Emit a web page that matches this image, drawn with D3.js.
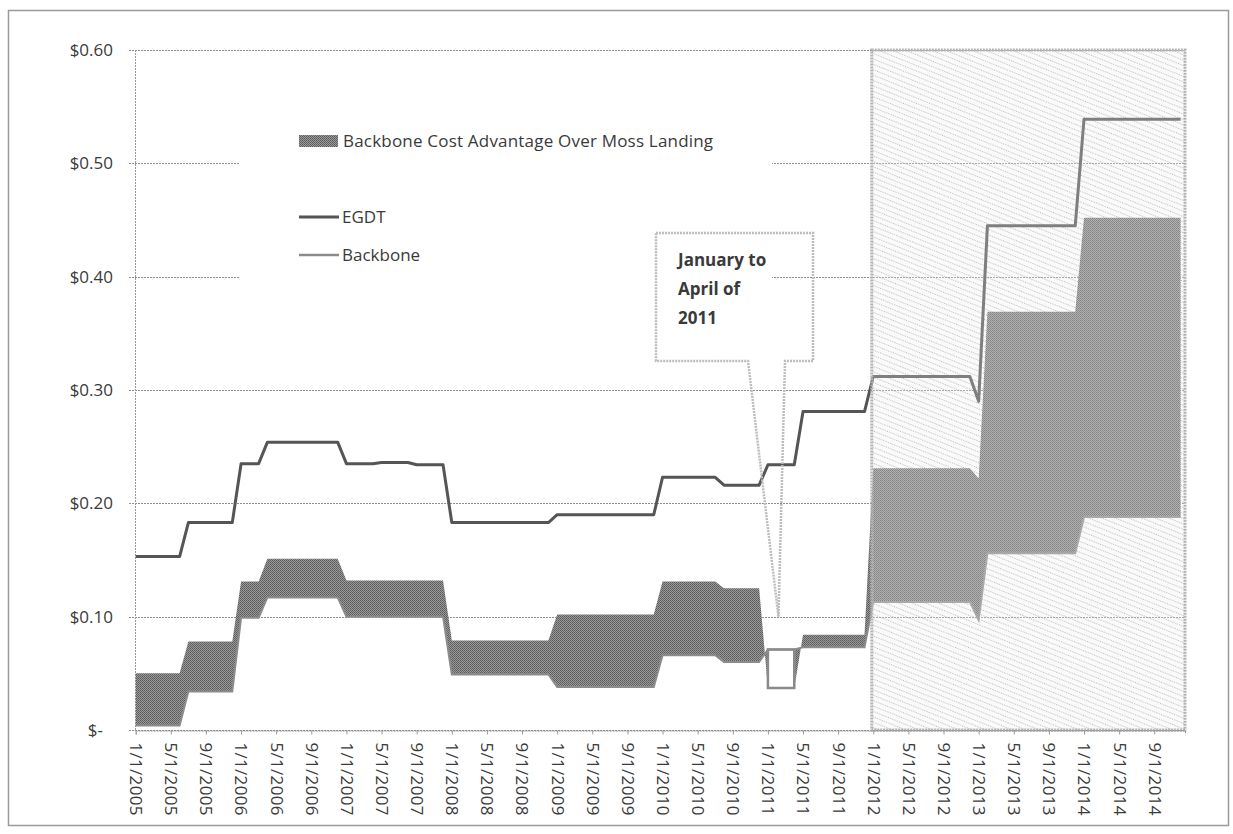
<!DOCTYPE html>
<html>
<head>
<meta charset="utf-8">
<script src="https://cdn.jsdelivr.net/npm/d3@7"></script>
<style>
  body { margin: 0; background: #fff; }
  svg text { font-family: "Open Sans", "DejaVu Sans", sans-serif; fill: #3a3a3a; }
</style>
</head>
<body>
<div id="chart"></div>
<script>
// values, one entry per change (month, $/unit)
var startYear = 2005;
var monthCount = 120; // 1/2005 .. 12/2014

var egdtChanges = [
	["2005-01", 0.153], ["2005-07", 0.183], ["2006-01", 0.235], ["2006-04", 0.254],
	["2007-01", 0.235], ["2007-05", 0.236], ["2007-09", 0.234], ["2008-01", 0.183],
	["2009-01", 0.190], ["2010-01", 0.223], ["2010-08", 0.216], ["2011-01", 0.234],
	["2011-05", 0.281], ["2012-01", 0.312], ["2013-01", 0.290], ["2013-02", 0.445],
	["2014-01", 0.539]
];
// lower edge of the band (Backbone line)
var backboneChanges = [
	["2005-01", 0.004], ["2005-07", 0.034], ["2006-01", 0.099], ["2006-04", 0.117],
	["2007-01", 0.100], ["2008-01", 0.049], ["2009-01", 0.038], ["2010-01", 0.066],
	["2010-08", 0.060], ["2011-01", 0.071], ["2011-05", 0.073], ["2012-01", 0.113],
	["2013-01", 0.097], ["2013-02", 0.156], ["2014-01", 0.188]
];
// upper edge of the band (Moss Landing)
var mossLandingChanges = [
	["2005-01", 0.050], ["2005-07", 0.078], ["2006-01", 0.131], ["2006-04", 0.151],
	["2007-01", 0.132], ["2008-01", 0.079], ["2009-01", 0.102], ["2010-01", 0.131],
	["2010-08", 0.125], ["2011-01", 0.037], ["2011-05", 0.084], ["2012-01", 0.231],
	["2013-01", 0.222], ["2013-02", 0.369], ["2014-01", 0.452]
];

var yTicks = [0, 0.1, 0.2, 0.3, 0.4, 0.5, 0.6];
var xTickStep = 4; // a label every 4 months
var forecastStart = "2012-01";
var calloutLines = ["January to", "April of", "2011"];
var calloutTarget = ["2011-02", 0.10];
var legendBand = "Backbone Cost Advantage Over Moss Landing";
var legendLines = ["EGDT", "Backbone"];

function monthIndex(s) {
	var p = s.split("-");
	return (+p[0] - startYear) * 12 + (+p[1] - 1);
}

// hold each value until the next change
function expandSteps(changes) {
	var out = [];
	var j = 0;
	for (var i = 0; i < monthCount; i++) {
		while (j + 1 < changes.length && monthIndex(changes[j + 1][0]) <= i) j++;
		out.push(changes[j][1]);
	}
	return out;
}

var egdt = expandSteps(egdtChanges);
var backbone = expandSteps(backboneChanges);
var moss = expandSteps(mossLandingChanges);
var rows = d3.range(monthCount).map(function (i) {
	return { m: i, egdt: egdt[i], lower: backbone[i], upper: moss[i] };
});

var width = 1233, height = 834;
var x = d3.scaleLinear().domain([0, monthCount - 0.5]).range([135.7, 1185]);
var y = d3.scaleLinear().domain([0, 0.6]).range([730, 50]);

var svg = d3.select("#chart").append("svg")
	.attr("width", width)
	.attr("height", height);

var defs = svg.append("defs");
// wavy dotted texture of the forecast block
var pat = defs.append("pattern")
	.attr("id", "forecastTex")
	.attr("patternUnits", "userSpaceOnUse")
	.attr("width", 24).attr("height", 5)
	.attr("patternTransform", "rotate(22)");
pat.append("rect").attr("width", 24).attr("height", 5).attr("fill", "#f8f8f8");
pat.append("line")
	.attr("x1", 0).attr("x2", 24).attr("y1", 2.5).attr("y2", 2.5)
	.attr("stroke", "#9c9c9c").attr("stroke-width", 1)
	.attr("stroke-dasharray", "1,1.4");
// dithered grey of the band
var dith = defs.append("pattern")
	.attr("id", "bandTex")
	.attr("patternUnits", "userSpaceOnUse")
	.attr("width", 2).attr("height", 2);
dith.append("rect").attr("width", 2).attr("height", 2).attr("fill", "#999");
dith.append("rect").attr("width", 1).attr("height", 1).attr("fill", "#5a5a5a");
dith.append("rect").attr("x", 1).attr("y", 1).attr("width", 1).attr("height", 1).attr("fill", "#666");

// outer frame
svg.append("rect")
	.attr("x", 8.5).attr("y", 10.5)
	.attr("width", 1220).attr("height", 815)
	.attr("fill", "none")
	.attr("stroke", "#9a9a9a")
	.attr("stroke-width", 1.5);

var fx0 = x(monthIndex(forecastStart)) - 1.5;
var fx1 = x(monthCount - 0.5);
svg.append("rect")
	.attr("x", fx0).attr("y", y(0.6))
	.attr("width", fx1 - fx0).attr("height", y(0) - y(0.6))
	.attr("fill", "url(#forecastTex)");

// gridlines
svg.append("g").selectAll("line")
	.data(yTicks)
	.enter().append("line")
	.attr("x1", 129).attr("x2", fx1)
	.attr("y1", function (d) { return Math.round(y(d)) + 0.5; })
	.attr("y2", function (d) { return Math.round(y(d)) + 0.5; })
	.attr("stroke", "#8e8e8e")
	.attr("stroke-width", 1)
	.attr("stroke-dasharray", "2,1");
// value axis line
svg.append("line")
	.attr("x1", 135.5).attr("x2", 135.5)
	.attr("y1", y(0.6)).attr("y2", y(0))
	.attr("stroke", "#9a9a9a")
	.attr("stroke-dasharray", "2,1");

// band
var band = d3.area()
	.x(function (d) { return x(d.m); })
	.y0(function (d) { return y(d.lower); })
	.y1(function (d) { return y(d.upper); });
svg.append("path")
	.datum(rows)
	.attr("d", band)
	.attr("fill", "url(#bandTex)");
// months where the advantage is negative: outline only
var negRows = rows.filter(function (d) { return d.upper < d.lower; });
svg.append("path")
	.datum(negRows)
	.attr("d", band)
	.attr("fill", "#fff")
	.attr("stroke", "#8a8a8a")
	.attr("stroke-width", 2.5);

var lineOf = function (key) {
	return d3.line()
		.x(function (d) { return x(d.m); })
		.y(function (d) { return y(d[key]); });
};
svg.append("path")
	.datum(rows)
	.attr("d", lineOf("lower"))
	.attr("fill", "none")
	.attr("stroke", "#8c8c8c")
	.attr("stroke-width", 2);
svg.append("path")
	.datum(rows)
	.attr("d", lineOf("egdt"))
	.attr("fill", "none")
	.attr("stroke", "#555")
	.attr("stroke-width", 3)
	.attr("stroke-linejoin", "round");

// forecast wash + border
svg.append("rect")
	.attr("x", fx0).attr("y", y(0.6))
	.attr("width", fx1 - fx0).attr("height", y(0) - y(0.6))
	.attr("fill", "#fff").attr("fill-opacity", 0.25)
	.attr("stroke", "#b4b4b4")
	.attr("stroke-width", 3)
	.attr("stroke-dasharray", "2,1");

// axes
var xAxis = d3.axisBottom(x)
	.tickValues(d3.range(0, monthCount, xTickStep))
	.tickSize(4)
	.tickFormat(function (m) {
		var d = new Date(startYear, m, 1);
		return d3.timeFormat("%-m/%-d/%Y")(d);
	});
var gx = svg.append("g")
	.attr("transform", "translate(0," + (Math.round(y(0)) + 0.5) + ")")
	.call(xAxis);
gx.select(".domain").attr("stroke", "#8e8e8e").attr("stroke-dasharray", "2,1");
gx.selectAll(".tick line").attr("stroke", "#9a9a9a");
gx.selectAll(".tick text")
	.attr("transform", "rotate(90)")
	.attr("x", 12).attr("y", 0)
	.attr("dy", "0.36em")
	.attr("text-anchor", "start")
	.style("font-size", "17px")
	.style("letter-spacing", "0.3px")
	.attr("fill", "#3a3a3a");

svg.append("g").selectAll("text")
	.data(yTicks)
	.enter().append("text")
	.attr("x", function (d) { return d === 0 ? 103 : 113; })
	.attr("y", function (d) { return y(d); })
	.attr("dy", "0.35em")
	.attr("text-anchor", "end")
	.style("font-size", "17px")
	.text(function (d) { return d === 0 ? "$-" : "$" + d3.format(".2f")(d); });

// legend (white box hides the grid behind it)
svg.append("rect")
	.attr("x", 240).attr("y", 112)
	.attr("width", 532).attr("height", 190)
	.attr("fill", "#fff");
var lg = svg.append("g");
lg.append("rect")
	.attr("x", 299).attr("y", 135)
	.attr("width", 39).attr("height", 12)
	.attr("fill", "url(#bandTex)");
lg.append("text")
	.attr("x", 343).attr("y", 141).attr("dy", "0.35em")
	.style("font-size", "17px")
	.style("letter-spacing", "0.2px")
	.text(legendBand);
var lineStyles = [{ c: "#555", w: 3 }, { c: "#8c8c8c", w: 2.5 }];
legendLines.forEach(function (name, i) {
	var ly = 217 + i * 38;
	lg.append("line")
		.attr("x1", 299).attr("x2", 339)
		.attr("y1", ly).attr("y2", ly)
		.attr("stroke", lineStyles[i].c)
		.attr("stroke-width", lineStyles[i].w);
	lg.append("text")
		.attr("x", 342).attr("y", ly).attr("dy", "0.35em")
		.style("font-size", "17px")
		.text(name);
});

// callout pointing at the Jan-Apr 2011 dip
var tipX = x(monthIndex(calloutTarget[0]) + 0.2), tipY = y(calloutTarget[1]);
var bx0 = 656, bx1 = 813, by0 = 233, by1 = 361;
svg.append("path")
	.attr("d", "M" + bx0 + "," + by0 + "H" + bx1 + "V" + by1 + "H785L" + tipX + "," + tipY +
		"L748," + by1 + "H" + bx0 + "Z")
	.attr("fill", "none")
	.attr("stroke", "#bdbdbd")
	.attr("stroke-width", 2.5)
	.attr("stroke-dasharray", "2,1");
svg.append("g").selectAll("text")
	.data(calloutLines)
	.enter().append("text")
	.attr("x", 678)
	.attr("y", function (d, i) { return 260 + i * 29; })
	.attr("dy", "0.35em")
	.style("font-size", "17px")
	.style("font-weight", "bold")
	.text(function (d) { return d; });
</script>
</body>
</html>
